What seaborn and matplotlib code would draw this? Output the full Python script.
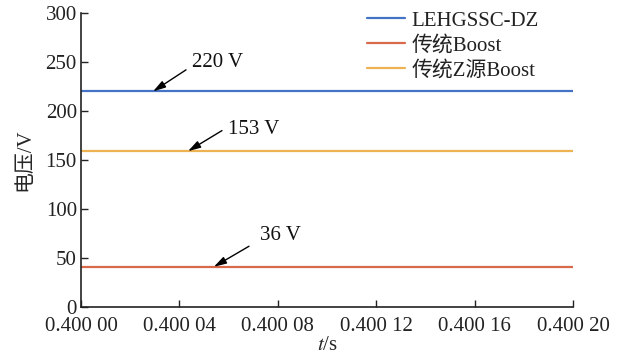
import numpy as np
import pandas as pd
import matplotlib
matplotlib.use("Agg")
import matplotlib.pyplot as plt
import seaborn as sns

# Data
t_values = [0.40000, 0.40020]
series_names = ["LEHGSSC-DZ", "传统Boost", "传统Z源Boost"]
series_levels = [220, 41, 159]
annot_texts = ["220 V", "153 V", "36 V"]
x_ticks = [0.40000, 0.40004, 0.40008, 0.40012, 0.40016, 0.40020]
x_tick_labels = ["0.400 00", "0.400 04", "0.400 08", "0.400 12", "0.400 16", "0.400 20"]
y_ticks = [0, 50, 100, 150, 200, 250, 300]

# annotation layout (arrow head, arrow tail, text anchor) in data coords
arrow_heads = [(0.4000293, 220), (0.4000435, 159), (0.400054, 41)]
arrow_tails = [(0.4000427, 242), (0.4000573, 180), (0.4000683, 62)]
text_pos = [(0.4000450, 249), (0.4000598, 181), (0.4000728, 73)]

sns.set_theme(style="ticks")
plt.rcParams['font.family'] = ['Liberation Serif', 'Noto Sans CJK SC']
plt.rcParams['mathtext.fontset'] = 'stix'

rows = []
for name, lvl in zip(series_names, series_levels):
    for t in t_values:
        rows.append({"t": t, "v": lvl, "series": name})
df = pd.DataFrame(rows)

colors = ["#4472C4", "#D9694B", "#EDB353"]
FS = 15

fig = plt.figure(figsize=(6.22, 3.6), dpi=100)
ax = fig.add_axes([81/622, 1-307/360, (573-81)/622, (307-13)/360])
sns.lineplot(data=df, x="t", y="v", hue="series", hue_order=series_names,
             palette=colors, linewidth=1.6, ax=ax, legend=True)

ax.set_xlim(0.40000, 0.40020)
ax.set_ylim(0, 300)
ax.set_xticks(x_ticks)
ax.set_xticklabels(x_tick_labels)
ax.set_yticks(y_ticks)
ax.tick_params(direction="in", length=5, width=1, labelsize=FS, colors="#222222")
ax.tick_params(axis="x", pad=7)
ax.tick_params(axis="y", pad=3)
for s in ["top", "right"]:
    ax.spines[s].set_visible(False)
for s in ["left", "bottom"]:
    ax.spines[s].set_color("#222222")
    ax.spines[s].set_linewidth(1.2)

ax.set_xlabel("$t$/s", fontsize=FS, labelpad=0)
ax.set_ylabel("电压/V", fontsize=FS, labelpad=8)

for txt, head, tail, tp in zip(annot_texts, arrow_heads, arrow_tails, text_pos):
    ax.annotate("", xy=head, xytext=tail,
                arrowprops=dict(arrowstyle="-|>,head_length=0.75,head_width=0.22",
                                mutation_scale=10, color="black", lw=1.0,
                                shrinkA=0, shrinkB=0))
    ax.text(tp[0], tp[1], txt, fontsize=FS, ha="left", va="center", color="#111111")

leg = ax.legend(loc="upper left", bbox_to_anchor=(367/622, 1-11/360),
                bbox_transform=fig.transFigure, frameon=False,
                fontsize=FS, handlelength=1.8, handletextpad=0.35, labelspacing=0.25,
                borderaxespad=0, borderpad=0)
for t in leg.get_texts():
    t.set_color("#222222")

fig.savefig("out.png", dpi=100)
